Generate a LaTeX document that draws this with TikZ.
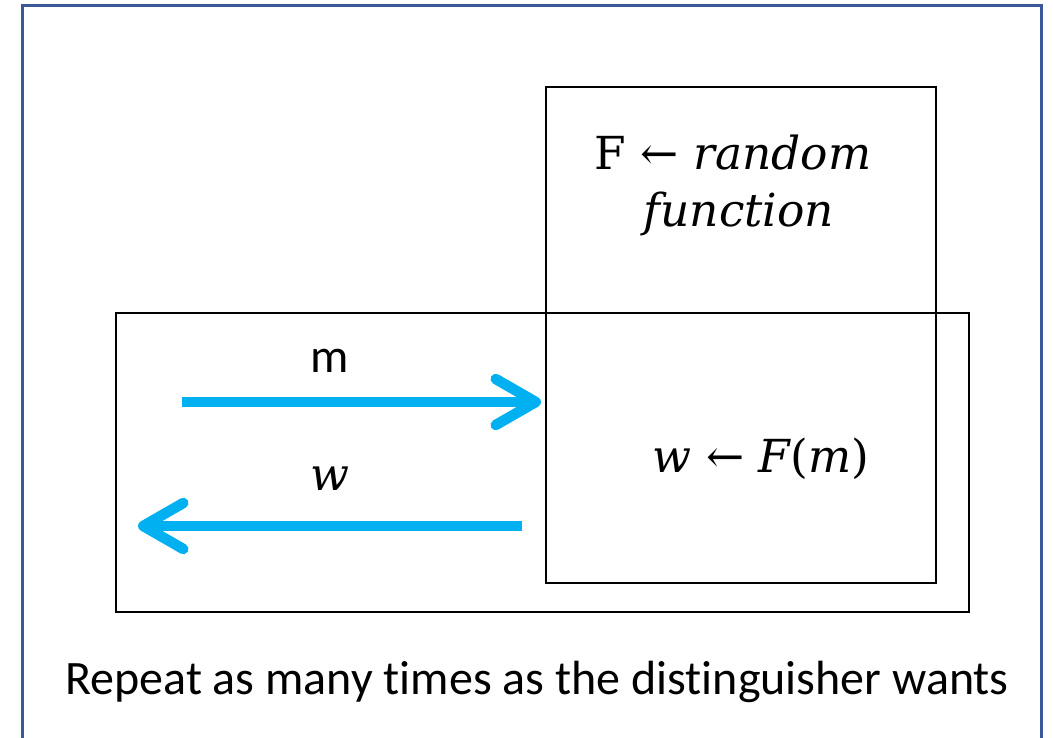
\documentclass[tikz,border=0pt]{standalone}
\usepackage{fontspec}
\newfontfamily\sansf[Ligatures=NoCommon]{Carlito}
\newfontfamily\serf{DejaVu Serif}
\usetikzlibrary{arrows.meta}
\definecolor{frameblue}{RGB}{59,89,152}
\definecolor{arrowcyan}{RGB}{0,176,240}
\begin{document}
\begin{tikzpicture}[x=1pt,y=-1pt,
  box/.style={draw=black,line width=2.2pt,inner sep=0pt,anchor=north west},
  flow/.style={draw=arrowcyan,line width=10.5pt,line cap=butt,
    -{Straight Barb[length=40pt,width=46pt,round]}},
  sanslab/.style={font=\sansf\fontsize{48}{56}\selectfont,anchor=base,inner sep=0pt},
  mathlab/.style={font=\serf\fontsize{45.5}{54}\selectfont,anchor=base,inner sep=0pt}]
\useasboundingbox (0,0) rectangle (1053,738);
\draw[frameblue,line width=3pt] (22,738) -- (22,6) -- (1041,6) -- (1041,738);
\node[box,minimum width=390pt,minimum height=496pt] (fbox) at (545,86) {};
\node[box,minimum width=853pt,minimum height=299pt] (outer) at (115,312) {};
\node[mathlab] (fline1) at (733,170) {F ← \itshape random};
\node[mathlab] (fline2) at (739,227) {\itshape function};
\node[mathlab] (wf) at (761,472) {\itshape w \upshape← \itshape F\upshape(\itshape m\upshape)};
\node[sanslab] (mlab) at (330,372) {m};
\node[mathlab] (wlab) at (330,490) {\itshape w};
\coordinate (ms) at (182,402);
\coordinate (me) at (541,402);
\coordinate (ws) at (522,526);
\coordinate (we) at (138,526);
\draw[flow] (ms) -- (me);
\draw[flow] (ws) -- (we);
\node[sanslab] (caption) at (537,694) {Repeat as many times as the distinguisher wants};
\end{tikzpicture}
\end{document}
